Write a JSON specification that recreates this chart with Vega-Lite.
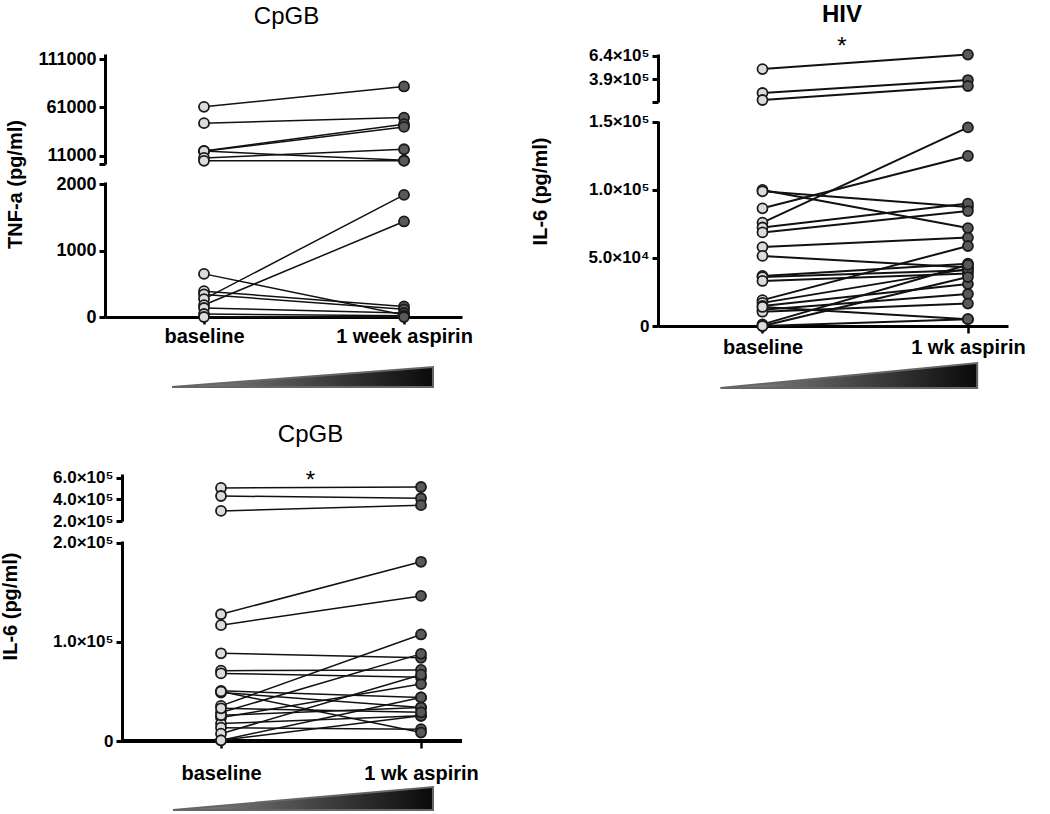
{
"$schema":"https://vega.github.io/schema/vega-lite/v6.json",
"background":"white",
"padding":{"left":0,"top":3,"right":5,"bottom":5},
"config":{
 "view":{"stroke":null},
 "font":"Liberation Sans",
 "axis":{"domainWidth":3,"domainColor":"#000","tickColor":"#000","tickWidth":3,"tickSize":6,"labelPadding":3,"labelFont":"Liberation Sans","labelFontWeight":"bold","labelColor":"#000","titleFont":"Liberation Sans","titleFontWeight":"bold","titleFontSize":20,"titleColor":"#000","grid":false,"labelOverlap":false,"labelFlush":false}
},
"datasets":{
 "p1":[
  {"s":"u","id":1,"t":0,"v":61700},{"s":"u","id":1,"t":1,"v":82700},
  {"s":"u","id":2,"t":0,"v":44800},{"s":"u","id":2,"t":1,"v":50600},
  {"s":"u","id":3,"t":0,"v":16200},{"s":"u","id":3,"t":1,"v":43800},
  {"s":"u","id":4,"t":0,"v":15800},{"s":"u","id":4,"t":1,"v":41000},
  {"s":"u","id":5,"t":0,"v":16000},{"s":"u","id":5,"t":1,"v":6500},
  {"s":"u","id":6,"t":0,"v":9000},{"s":"u","id":6,"t":1,"v":17900},
  {"s":"u","id":7,"t":0,"v":6000},{"s":"u","id":7,"t":1,"v":6000},
  {"s":"l","id":8,"t":0,"v":650},{"s":"l","id":8,"t":1,"v":30},
  {"s":"l","id":9,"t":0,"v":390},{"s":"l","id":9,"t":1,"v":160},
  {"s":"l","id":10,"t":0,"v":340},{"s":"l","id":10,"t":1,"v":115},
  {"s":"l","id":11,"t":0,"v":270},{"s":"l","id":11,"t":1,"v":1840},
  {"s":"l","id":12,"t":0,"v":180},{"s":"l","id":12,"t":1,"v":1440},
  {"s":"l","id":13,"t":0,"v":136},{"s":"l","id":13,"t":1,"v":60},
  {"s":"l","id":14,"t":0,"v":45},{"s":"l","id":14,"t":1,"v":20},
  {"s":"l","id":15,"t":0,"v":0},{"s":"l","id":15,"t":1,"v":0}
 ],
 "p2":[
  {"s":"u","id":1,"t":0,"v":500000},{"s":"u","id":1,"t":1,"v":655000},
  {"s":"u","id":2,"t":0,"v":243000},{"s":"u","id":2,"t":1,"v":382000},
  {"s":"u","id":3,"t":0,"v":168000},{"s":"u","id":3,"t":1,"v":318000},
  {"s":"l","id":4,"t":0,"v":100000},{"s":"l","id":4,"t":1,"v":72000},
  {"s":"l","id":5,"t":0,"v":99000},{"s":"l","id":5,"t":1,"v":87500},
  {"s":"l","id":6,"t":0,"v":86500},{"s":"l","id":6,"t":1,"v":125000},
  {"s":"l","id":7,"t":0,"v":76000},{"s":"l","id":7,"t":1,"v":146000},
  {"s":"l","id":8,"t":0,"v":72400},{"s":"l","id":8,"t":1,"v":90000},
  {"s":"l","id":9,"t":0,"v":68800},{"s":"l","id":9,"t":1,"v":84500},
  {"s":"l","id":10,"t":0,"v":58000},{"s":"l","id":10,"t":1,"v":65000},
  {"s":"l","id":11,"t":0,"v":51500},{"s":"l","id":11,"t":1,"v":43000},
  {"s":"l","id":12,"t":0,"v":36800},{"s":"l","id":12,"t":1,"v":45800},
  {"s":"l","id":13,"t":0,"v":36000},{"s":"l","id":13,"t":1,"v":41000},
  {"s":"l","id":14,"t":0,"v":33100},{"s":"l","id":14,"t":1,"v":38600},
  {"s":"l","id":15,"t":0,"v":19000},{"s":"l","id":15,"t":1,"v":58800},
  {"s":"l","id":16,"t":0,"v":17000},{"s":"l","id":16,"t":1,"v":42000},
  {"s":"l","id":17,"t":0,"v":14700},{"s":"l","id":17,"t":1,"v":30800},
  {"s":"l","id":18,"t":0,"v":12000},{"s":"l","id":18,"t":1,"v":23500},
  {"s":"l","id":19,"t":0,"v":10500},{"s":"l","id":19,"t":1,"v":16500},
  {"s":"l","id":20,"t":0,"v":14000},{"s":"l","id":20,"t":1,"v":5000},
  {"s":"l","id":21,"t":0,"v":1200},{"s":"l","id":21,"t":1,"v":45000},
  {"s":"l","id":22,"t":0,"v":0},{"s":"l","id":22,"t":1,"v":36000},
  {"s":"l","id":23,"t":0,"v":0},{"s":"l","id":23,"t":1,"v":5000}
 ],
 "p3":[
  {"s":"u","id":1,"t":0,"v":505000},{"s":"u","id":1,"t":1,"v":514000},
  {"s":"u","id":2,"t":0,"v":431000},{"s":"u","id":2,"t":1,"v":410000},
  {"s":"u","id":3,"t":0,"v":293000},{"s":"u","id":3,"t":1,"v":346000},
  {"s":"l","id":4,"t":0,"v":128000},{"s":"l","id":4,"t":1,"v":181000},
  {"s":"l","id":5,"t":0,"v":117000},{"s":"l","id":5,"t":1,"v":146500},
  {"s":"l","id":6,"t":0,"v":88600},{"s":"l","id":6,"t":1,"v":84000},
  {"s":"l","id":7,"t":0,"v":71000},{"s":"l","id":7,"t":1,"v":71800},
  {"s":"l","id":8,"t":0,"v":68300},{"s":"l","id":8,"t":1,"v":64300},
  {"s":"l","id":9,"t":0,"v":50700},{"s":"l","id":9,"t":1,"v":44000},
  {"s":"l","id":10,"t":0,"v":49000},{"s":"l","id":10,"t":1,"v":33800},
  {"s":"l","id":11,"t":0,"v":35500},{"s":"l","id":11,"t":1,"v":107600},
  {"s":"l","id":12,"t":0,"v":28700},{"s":"l","id":12,"t":1,"v":88000},
  {"s":"l","id":13,"t":0,"v":23700},{"s":"l","id":13,"t":1,"v":57500},
  {"s":"l","id":14,"t":0,"v":17600},{"s":"l","id":14,"t":1,"v":25400},
  {"s":"l","id":15,"t":0,"v":13500},{"s":"l","id":15,"t":1,"v":11900},
  {"s":"l","id":16,"t":0,"v":7400},{"s":"l","id":16,"t":1,"v":67000},
  {"s":"l","id":17,"t":0,"v":700},{"s":"l","id":17,"t":1,"v":44000},
  {"s":"l","id":18,"t":0,"v":700},{"s":"l","id":18,"t":1,"v":25400},
  {"s":"l","id":19,"t":0,"v":50000},{"s":"l","id":19,"t":1,"v":8500},
  {"s":"l","id":20,"t":0,"v":26000},{"s":"l","id":20,"t":1,"v":33800},
  {"s":"l","id":21,"t":0,"v":33000},{"s":"l","id":21,"t":1,"v":29000}
 ],
 "tri1":[{"t":-0.16,"h":0},{"t":1.145,"h":1}],
 "tri2":[{"t":-0.205,"h":0},{"t":1.045,"h":1}],
 "tri3":[{"t":-0.24,"h":0},{"t":1.06,"h":1}]
},
"columns":2,
"align":"none",
"spacing":{"row":30,"column":51},
"concat":[
  {"spacing":17,"vconcat":[
   {"spacing":18,"bounds":"flush","vconcat":[
    {"width":357,"height":110,
     "title":{"text":"CpGB","fontSize":24,"fontWeight":"normal","font":"Liberation Sans","color":"#000","dx":3,"offset":21},
     "data":{"name":"p1"},"transform":[{"filter":"datum.s=='u'"}],
     "encoding":{
      "x":{"field":"t","type":"quantitative","scale":{"domain":[-0.495,1.29],"nice":false,"zero":false},"axis":null},
      "y":{"field":"v","type":"quantitative","scale":{"domain":[2700,116200],"nice":false,"zero":false},"axis":{"title":null,"values":[2700,11000,61000,111000],"labelExpr":"datum.value<3000?'':format(datum.value,'d')","labelFontSize":18}}
     },
     "layer":[
      {"mark":{"type":"line","color":"#111","strokeWidth":1.5},"encoding":{"detail":{"field":"id"}}},
      {"mark":{"type":"point","filled":true,"size":100,"stroke":"#1a1a1a","strokeWidth":1.8,"opacity":1},"encoding":{"fill":{"field":"t","type":"nominal","scale":{"domain":[0,1],"range":["#dcdcdc","#595959"]},"legend":null}}}
     ]},
    {"width":357,"height":135,
     "data":{"name":"p1"},"transform":[{"filter":"datum.s=='l'"}],
     "encoding":{
      "x":{"field":"t","type":"quantitative","scale":{"domain":[-0.495,1.29],"nice":false,"zero":false},"axis":{"title":null,"values":[0,1],"labelExpr":"datum.value==0?'baseline':'1 week aspirin'","labelFontSize":20,"tickSize":7,"tickWidth":2.5,"labelPadding":2}},
      "y":{"field":"v","type":"quantitative","scale":{"domain":[0,2035],"nice":false},"axis":{"title":"TNF-a (pg/ml)","titleY":2,"titlePadding":30,"values":[0,1000,2000],"format":"d","labelFontSize":18}}
     },
     "layer":[
      {"mark":{"type":"line","color":"#111","strokeWidth":1.5},"encoding":{"detail":{"field":"id"}}},
      {"mark":{"type":"point","filled":true,"size":100,"stroke":"#1a1a1a","strokeWidth":1.8,"opacity":1},"encoding":{"fill":{"field":"t","type":"nominal","scale":{"domain":[0,1],"range":["#dcdcdc","#595959"]},"legend":null}}}
     ]}
   ]},
   {"width":357,"height":20,"data":{"name":"tri1"},
    "mark":{"type":"area","color":{"gradient":"linear","x1":0,"x2":1,"y1":0,"y2":0,"stops":[{"offset":0,"color":"#8a8a8a"},{"offset":1,"color":"#0a0a0a"}]},"stroke":"#666","strokeWidth":2},
    "encoding":{
     "x":{"field":"t","type":"quantitative","scale":{"domain":[-0.495,1.29],"nice":false,"zero":false},"axis":null},
     "y":{"field":"h","type":"quantitative","scale":{"domain":[0,1],"nice":false},"axis":null}
    }}
  ]},
  {"spacing":2,"vconcat":[
   {"spacing":19,"bounds":"flush","vconcat":[
    {"width":350,"height":48,
     "title":{"text":"HIV","subtitle":"*","fontSize":24,"fontWeight":"bold","font":"Liberation Sans","color":"#000","subtitleFont":"Liberation Sans","subtitleFontSize":24,"subtitleColor":"#000","subtitlePadding":8,"dx":9,"offset":-13},
     "data":{"name":"p2"},"transform":[{"filter":"datum.s=='u'"}],
     "encoding":{
      "x":{"field":"t","type":"quantitative","scale":{"domain":[-0.5085,1.195],"nice":false,"zero":false},"axis":null},
      "y":{"field":"v","type":"quantitative","scale":{"domain":[146400,661460],"nice":false,"zero":false},"axis":{"title":null,"values":[146400,390000,640000],"labelExpr":"datum.value==640000?'6.4×10⁵':datum.value==390000?'3.9×10⁵':''","labelFontSize":17}}
     },
     "layer":[
      {"mark":{"type":"line","color":"#111","strokeWidth":2},"encoding":{"detail":{"field":"id"}}},
      {"mark":{"type":"point","filled":true,"size":100,"stroke":"#1a1a1a","strokeWidth":1.8,"opacity":1},"encoding":{"fill":{"field":"t","type":"nominal","scale":{"domain":[0,1],"range":["#dcdcdc","#595959"]},"legend":null}}}
     ]},
    {"width":350,"height":205,
     "data":{"name":"p2"},"transform":[{"filter":"datum.s=='l'"}],
     "encoding":{
      "x":{"field":"t","type":"quantitative","scale":{"domain":[-0.5085,1.195],"nice":false,"zero":false},"axis":{"title":null,"values":[0,1],"labelExpr":"datum.value==0?'baseline':'1 wk aspirin'","labelFontSize":20,"tickSize":7,"tickWidth":2.5,"labelPadding":4}},
      "y":{"field":"v","type":"quantitative","scale":{"domain":[0,150700],"nice":false},"axis":{"title":"IL-6 (pg/ml)","titleY":70,"titlePadding":38,"values":[0,50000,100000,150000],"labelExpr":"datum.value==0?'0':datum.value==50000?'5.0×10⁴':datum.value==100000?'1.0×10⁵':'1.5×10⁵'","labelFontSize":17}}
     },
     "layer":[
      {"mark":{"type":"line","color":"#111","strokeWidth":2},"encoding":{"detail":{"field":"id"}}},
      {"mark":{"type":"point","filled":true,"size":100,"stroke":"#1a1a1a","strokeWidth":1.8,"opacity":1},"encoding":{"fill":{"field":"t","type":"nominal","scale":{"domain":[0,1],"range":["#dcdcdc","#595959"]},"legend":null}}}
     ]}
   ]},
   {"width":350,"height":25,"data":{"name":"tri2"},
    "mark":{"type":"area","color":{"gradient":"linear","x1":0,"x2":1,"y1":0,"y2":0,"stops":[{"offset":0,"color":"#8a8a8a"},{"offset":1,"color":"#0a0a0a"}]},"stroke":"#666","strokeWidth":2},
    "encoding":{
     "x":{"field":"t","type":"quantitative","scale":{"domain":[-0.5085,1.195],"nice":false,"zero":false},"axis":null},
     "y":{"field":"h","type":"quantitative","scale":{"domain":[0,1],"nice":false},"axis":null}
    }}
  ]},
  {"spacing":0,"vconcat":[
   {"spacing":20,"bounds":"flush","vconcat":[
    {"width":357,"height":47,
     "title":{"text":"CpGB","subtitle":"*","fontSize":24,"fontWeight":"normal","font":"Liberation Sans","color":"#000","subtitleFont":"Liberation Sans","subtitleFontSize":24,"subtitleColor":"#000","subtitlePadding":22,"dx":27,"offset":-24},
     "data":{"name":"p3"},"transform":[{"filter":"datum.s=='u'"}],
     "encoding":{
      "x":{"field":"t","type":"quantitative","scale":{"domain":[-0.58,1.205],"nice":false,"zero":false},"axis":null},
      "y":{"field":"v","type":"quantitative","scale":{"domain":[200000,634000],"nice":false,"zero":false},"axis":{"title":null,"offset":-17,"values":[200000,400000,600000],"labelExpr":"datum.value==600000?'6.0×10⁵':datum.value==400000?'4.0×10⁵':'2.0×10⁵'","labelFontSize":17}}
     },
     "layer":[
      {"mark":{"type":"line","color":"#111","strokeWidth":1.5},"encoding":{"detail":{"field":"id"}}},
      {"mark":{"type":"point","filled":true,"size":100,"stroke":"#1a1a1a","strokeWidth":1.8,"opacity":1},"encoding":{"fill":{"field":"t","type":"nominal","scale":{"domain":[0,1],"range":["#dcdcdc","#595959"]},"legend":null}}}
     ]},
    {"width":357,"height":200,
     "data":{"name":"p3"},"transform":[{"filter":"datum.s=='l'"}],
     "encoding":{
      "x":{"field":"t","type":"quantitative","scale":{"domain":[-0.58,1.205],"nice":false,"zero":false},"axis":{"title":null,"domain":false,"values":[0,1],"labelExpr":"datum.value==0?'baseline':'1 wk aspirin'","labelFontSize":20,"tickSize":7,"tickWidth":2.5,"labelPadding":15}},
      "y":{"field":"v","type":"quantitative","scale":{"domain":[0,202000],"nice":false},"axis":{"title":"IL-6 (pg/ml)","offset":-17,"titleY":65,"titlePadding":32,"values":[0,100000,200000],"labelExpr":"datum.value==0?'0':datum.value==100000?'1.0×10⁵':'2.0×10⁵'","labelFontSize":17}}
     },
     "layer":[
      {"mark":{"type":"rule","color":"#000","strokeWidth":3},"encoding":{"x":{"datum":-0.5},"x2":{"datum":1.205},"y":{"datum":0}}},
      {"mark":{"type":"line","color":"#111","strokeWidth":1.5},"encoding":{"detail":{"field":"id"}}},
      {"mark":{"type":"point","filled":true,"size":100,"stroke":"#1a1a1a","strokeWidth":1.8,"opacity":1},"encoding":{"fill":{"field":"t","type":"nominal","scale":{"domain":[0,1],"range":["#dcdcdc","#595959"]},"legend":null}}}
     ]}
   ]},
   {"width":357,"height":23,"data":{"name":"tri3"},
    "mark":{"type":"area","color":{"gradient":"linear","x1":0,"x2":1,"y1":0,"y2":0,"stops":[{"offset":0,"color":"#8a8a8a"},{"offset":1,"color":"#0a0a0a"}]},"stroke":"#666","strokeWidth":2},
    "encoding":{
     "x":{"field":"t","type":"quantitative","scale":{"domain":[-0.58,1.205],"nice":false,"zero":false},"axis":null},
     "y":{"field":"h","type":"quantitative","scale":{"domain":[0,1],"nice":false},"axis":null}
    }}
  ]}
]
}
